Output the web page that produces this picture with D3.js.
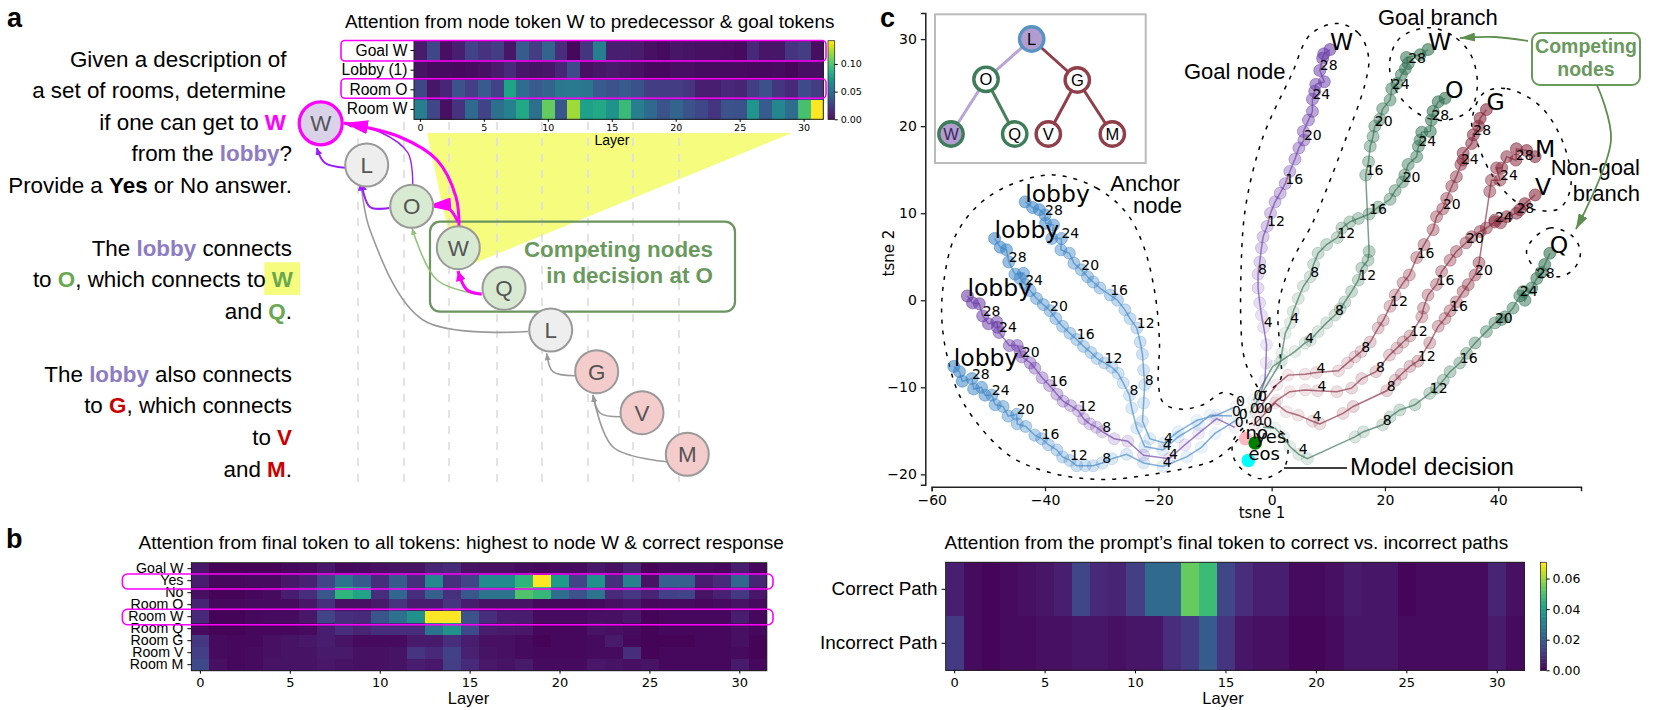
<!DOCTYPE html>
<html>
<head>
<meta charset="utf-8">
<script src="https://cdn.jsdelivr.net/npm/d3@7"></script>
<style>
  html, body { margin: 0; padding: 0; background: #fff; }
  svg { display: block; }
  text { font-family: "Liberation Sans", Arial, sans-serif; }
  .dj text, text.dj { font-family: "DejaVu Sans", sans-serif; }
</style>
</head>
<body>
<svg id="fig" width="1661" height="710"></svg>
<script>
// heatmap data (index = layer)
const layers = d3.range(32);
const layerTicks = [0, 5, 10, 15, 20, 25, 30];

const topRows = ['Goal W', 'Lobby (1)', 'Room O', 'Room W'];
const topGoalW = [.01,.03,.005,.012,.028,.02,.025,.008,.04,.025,.045,.018,.003,.022,.06,.012,.012,.01,.006,.004,.008,.007,.006,.006,.005,.004,.016,.008,.008,.022,.025,.005];
const topLobby = [.007,.004,.004,.003,.004,.006,.01,.017,.008,.007,.008,.015,.032,.006,.008,.01,.008,.006,.003,.003,.005,.005,.004,.004,.004,.004,.003,.003,.004,.002,.005,.005];
const topRoomO = [.03,.008,.015,.036,.026,.04,.028,.083,.05,.04,.045,.057,.058,.055,.04,.036,.04,.035,.025,.025,.025,.022,.012,.012,.016,.014,.025,.035,.022,.016,.032,.025];
const topRoomW = [.06,.03,.006,.02,.048,.028,.052,.062,.085,.052,.108,.038,.122,.08,.085,.072,.096,.06,.048,.036,.045,.036,.03,.022,.036,.035,.074,.04,.065,.05,.1,.142];

const finalRows = ['Goal W', 'Yes', 'No', 'Room O', 'Room W', 'Room Q', 'Room G', 'Room V', 'Room M'];
const finalGoalW = [.06,.01,.01,.01,.01,.02,.03,.06,.02,.03,.04,.05,.05,.1,.12,.05,.04,.04,.03,.02,.03,.03,.06,.04,.1,.01,.03,.03,.03,.02,.08,.02];
const finalYes = [.08,.02,.02,.03,.03,.06,.09,.2,.38,.28,.13,.28,.13,.47,.14,.2,.48,.48,.65,1,.55,.2,.5,.13,.43,.05,.3,.3,.08,.12,.33,.1];
const finalNo = [.04,.01,.01,.02,.03,.08,.13,.27,.65,.58,.13,.33,.13,.3,.14,.27,.38,.38,.72,.67,.36,.25,.38,.12,.16,.1,.19,.2,.05,.09,.17,.06];
const finalRoomO = [.1,.02,.02,.03,.03,.03,.06,.14,.04,.04,.07,.15,.08,.08,.15,.08,.05,.05,.05,.02,.02,.02,.03,.04,.06,.02,.03,.03,.02,.03,.05,.03];
const finalRoomW = [.11,.01,.01,.02,.03,.03,.06,.2,.13,.12,.26,.37,.5,1,1,.25,.13,.08,.08,.03,.03,.03,.04,.04,.06,.01,.02,.02,.02,.02,.08,.02];
const finalRoomQ = [.03,.01,.01,.02,.02,.02,.03,.08,.13,.1,.13,.13,.13,.38,.5,.22,.08,.07,.06,.02,.02,.02,.05,.04,.03,.01,.02,.02,.02,.02,.04,.02];
const finalRoomG = [.16,.03,.02,.02,.04,.05,.06,.08,.05,.03,.03,.03,.07,.07,.13,.08,.04,.04,.03,.01,.02,.02,.03,.07,.02,.01,.01,.01,.02,.02,.04,.01];
const finalRoomV = [.18,.03,.02,.03,.04,.05,.05,.07,.07,.04,.04,.05,.15,.11,.19,.09,.05,.04,.03,.02,.02,.02,.03,.03,.13,.01,.02,.02,.02,.02,.03,.01];
const finalRoomM = [.22,.04,.02,.03,.05,.05,.05,.06,.05,.04,.04,.05,.08,.06,.18,.12,.06,.05,.07,.03,.03,.03,.06,.05,.04,.05,.02,.02,.02,.02,.07,.02];

const pathRows = ['Correct Path', 'Incorrect Path'];
const pathCorrect = [.006,.002,.001,.002,.003,.004,.006,.015,.008,.007,.013,.024,.024,.054,.048,.015,.009,.006,.006,.002,.002,.003,.005,.004,.004,.001,.002,.002,.002,.002,.007,.003];
const pathIncorrect = [.012,.002,.001,.002,.002,.003,.003,.004,.004,.003,.004,.004,.009,.012,.02,.011,.004,.003,.003,.001,.001,.002,.004,.004,.004,.002,.002,.002,.002,.002,.005,.002];

// t-SNE trajectories, one [x, y] per layer 0..31
const lobbyA = [[-6.3,-12.2],[-9.7,-13.2],[-13.2,-13.8],[-16.5,-15.1],[-19,-16.4],[-21.5,-15.9],[-22.8,-13.9],[-22.6,-11.8],[-22.4,-9.7],[-22.6,-8],[-22.8,-6.2],[-23.2,-4.8],[-23.8,-3.2],[-25,-2.1],[-25.9,-1.1],[-27.2,0],[-28.5,.6],[-30.3,1.4],[-31.5,2.1],[-32.5,2.7],[-33.6,3.5],[-34.9,4.25],[-35.7,5.4],[-37.2,5.8],[-37.1,7.1],[-38.8,7.1],[-38.5,8.65],[-39.9,8.85],[-40,9.8],[-41,10.4],[-42.2,10.65],[-43.5,11.3]];
const lobbyB = [[-7,-13.3],[-10.9,-13.2],[-12.9,-14.3],[-16.5,-15.7],[-19.2,-17.2],[-22.4,-16.8],[-23.8,-14.7],[-24.7,-12.4],[-25.1,-10.9],[-26.2,-9.5],[-27.1,-8.4],[-28.2,-7.7],[-29.5,-7.2],[-30.8,-6.7],[-31.9,-6],[-33.2,-5.3],[-34.4,-4.5],[-35.6,-3.8],[-36.9,-3],[-38.1,-2.1],[-39.1,-1.2],[-40.3,-.5],[-41.5,.2],[-42.6,1.1],[-43.5,1.8],[-44.4,2.5],[-43.8,3.1],[-45.3,3],[-46.4,4.4],[-46.8,5.8],[-47.9,6.1],[-48.9,7.1]];
const lobbyC = [[-6.5,-14.6],[-9.7,-13.6],[-12.9,-15.3],[-15.3,-16.6],[-18.1,-18.2],[-22.6,-17.8],[-25.4,-16.2],[-27.8,-15.9],[-29.9,-15.1],[-30.9,-14.6],[-32.1,-14.2],[-33.2,-13.6],[-34.1,-12.7],[-35.5,-12.1],[-36.8,-11.6],[-37.9,-10.8],[-39.2,-9.8],[-40.5,-8.9],[-41.8,-7.8],[-42.6,-7.2],[-44.1,-6.5],[-44.4,-5.9],[-44.9,-5.2],[-46.3,-5.2],[-48.1,-3.7],[-48.4,-3.1],[-48.5,-2.5],[-50,-2.7],[-51,-1.8],[-51.6,-.4],[-52.8,-.3],[-53.7,.5]];
const lobbyD = [[-5.8,-13.6],[-10,-15.3],[-12.4,-16.9],[-15,-18],[-19.2,-19.1],[-22.6,-18.7],[-25.6,-17.7],[-28.2,-18.2],[-29.9,-18.7],[-31.5,-19],[-32.9,-19],[-34.4,-19],[-35.6,-18.4],[-36.9,-18],[-37.9,-17.2],[-39.4,-16.6],[-40.6,-15.9],[-41.8,-15.5],[-43.4,-14.5],[-44.9,-14.2],[-45,-13.1],[-46.5,-13.3],[-47.4,-12.2],[-48.8,-12],[-49.4,-10.9],[-50.6,-10.9],[-51.2,-10],[-52.6,-10.2],[-52.9,-9],[-54.6,-9.3],[-55.1,-8.2],[-56.1,-7.6]];
const goalNodeW = [[-2.4,-11.6],[-1.2,-9.2],[-1,-7.2],[-.9,-5.1],[-1.4,-3.1],[-1.8,-1.7],[-2.1,-.3],[-2.4,1.4],[-2.4,3],[-2.1,4.4],[-1.8,6],[-1.5,7.3],[-.8,8.5],[-.2,10],[.6,11.3],[1.5,12.3],[2.4,13.4],[3.2,14.8],[4.1,16.2],[4.8,17.5],[5.7,18.4],[5.6,19.4],[6.5,20.7],[7.2,21.7],[7.2,23.1],[7.6,24],[7.8,24.8],[9.3,25.1],[8.5,26.4],[9,27.8],[9.2,28.3],[10.3,28.8]];
const branchW = [[-3.2,-11.5],[.2,-7.6],[1.8,-6.9],[4.1,-5.9],[5.9,-4.9],[6.8,-4.6],[8.2,-3.6],[9.7,-2.6],[11.2,-1.7],[12.1,-1],[12.9,-.2],[14.1,1],[15.3,2.3],[15.9,3.7],[17,4.6],[17.2,5.6],[16.6,14.4],[17.1,15.9],[17.4,17.7],[17.9,18.8],[18.2,20],[19.1,20.8],[19.6,22],[20.9,23],[21.2,24.3],[22.1,24.9],[22.9,25.9],[23.6,26.6],[24.1,27.2],[23.8,27.9],[26.2,28.2],[27.6,28.8]];
const branchO = [[-3.8,-12.9],[1.5,-7.2],[1.8,-6.1],[2.4,-3.8],[3.3,-2.6],[3.8,-1.3],[4.7,.2],[5.6,1.6],[6.8,2.7],[7.4,4.1],[8.2,5.4],[9.7,6.4],[11.6,7.2],[12.4,8.3],[13.8,9],[15.3,9.4],[17.2,9.9],[18.8,10.7],[20.9,11.6],[21.8,12.6],[23.1,13.6],[23.5,14.4],[24.1,15.6],[25.6,16.5],[25.9,17.7],[26.2,18.4],[26.5,19.3],[28,19.4],[28.2,20.7],[28.5,21.7],[29.4,22.8],[30.6,23.2]];
const branchQ = [[-1.5,-14.6],[.6,-14.7],[2.1,-15.7],[3.2,-16.8],[4.8,-17.7],[6.3,-18.2],[14.7,-15.7],[16.2,-15.1],[19.6,-14.3],[20.9,-13.4],[22.6,-12.6],[25.3,-12],[27.9,-10.7],[29.1,-10.1],[30.3,-9.2],[31.5,-8.2],[33.2,-7.2],[34.4,-6.1],[35.9,-4.9],[37.9,-3.6],[39.4,-2.6],[40.6,-2.2],[41.2,-1.9],[42.6,-.9],[43.8,.5],[44.4,1],[44.7,0],[45.9,1.4],[46.8,2.5],[47.6,3.2],[48.2,4.1],[49.1,5.4]];
const branchG = [[-2.8,-12.9],[.9,-9.7],[2.9,-8.6],[5.9,-8.5],[7.9,-8.3],[11.8,-8.1],[13.4,-7.2],[14.7,-6.5],[15.8,-5.9],[17.4,-4.8],[18.8,-3.2],[19.7,-2.3],[20.9,-.7],[21.8,.6],[23.2,2],[24.3,2.9],[25.6,4.9],[26.9,6.4],[28.5,8.1],[29.1,9.6],[30.2,10.5],[30.9,11.7],[31.8,13.1],[32.6,14.2],[33.4,15.6],[33.8,16.1],[33.8,16.9],[35.3,18],[35.6,19],[36.5,20],[36.8,20.9],[37.9,21.9]];
const branchV = [[-1.4,-12.9],[.9,-11.5],[3.2,-10.5],[5.9,-10.3],[8.1,-10.4],[11.5,-10.5],[14.1,-10.1],[15.9,-9],[18.4,-8.2],[20.8,-6.3],[22.1,-5.5],[23.2,-4.8],[24.4,-4.1],[26.5,-1.9],[26.8,-.9],[27.6,.6],[29.1,1.8],[30,3.3],[31.5,4.6],[32.6,5.6],[34.3,6.6],[35.3,7.3],[36.8,7.9],[37.9,8.3],[39.4,9],[39.4,9.2],[40.4,8.9],[41.5,9.6],[43.2,10],[43.8,10.4],[44.7,11.1],[46.5,12.1]];
const branchM = [[-3.2,-14.4],[.6,-11.8],[2.6,-12.8],[4.7,-13.2],[7.2,-13.9],[8.5,-14.2],[12.6,-13],[14.4,-12.2],[20.3,-10.4],[21.8,-9.2],[22.9,-8.5],[24.4,-7.6],[25.8,-7],[27.9,-4.9],[29.4,-3],[30.6,-2.1],[31.5,-1.2],[32.6,-.2],[33.8,1],[34.7,1.8],[35.9,2.9],[36.6,4.3],[38.5,12.5],[38.8,13.8],[40.3,13.8],[39.7,15.2],[40.6,15.2],[41.5,16.5],[43.1,16.1],[43.2,17.4],[45,17.2],[46.5,16.5]];

const trajectoryNames = ['lobby', 'lobby', 'lobby', 'lobby', 'W', 'W', 'O', 'Q', 'G', 'V', 'M'];
const decisionNames = ['no', 'yes', 'eos'];
const decisionPoints = [[-4.6,-15.9],[-2.9,-16.4],[-4.1,-18.4]];

// dashed hulls around trajectory groups, in t-SNE units
const hullAnchor = [[-38.5,14.4],[-30.9,12.9],[-25.6,10],[-22.6,6.2],[-20.6,.8],[-19.8,-4.9],[-20,-9.5],[-19.1,-11.8],[-16.2,-12.5],[-12.1,-12],[-8.5,-10.6],[-5.6,-11.5],[-4.4,-14.1],[-6.8,-16.6],[-10.3,-18.4],[-13.8,-19.1],[-22.1,-20.1],[-30.3,-20.6],[-39.7,-19.7],[-46.8,-17.6],[-54.4,-11.8],[-57.1,-6.9],[-58.2,-2.3],[-57.9,2],[-55.9,7.3],[-51.5,11.1],[-45.6,13.4]];
const hullGoalNode = [[11.5,31.8],[15.3,30.7],[17.1,28],[16.5,24.9],[12.6,17.7],[8.5,10.8],[7.1,8.7],[3.5,4.3],[1.2,-.7],[1.5,-6.1],[1.5,-9.2],[-1.5,-10.5],[-3.5,-8.8],[-5,-6.1],[-5.3,5.4],[-4.4,11.5],[-1.5,18.8],[3.5,25.9],[6.8,30.5]];
const hullGoalBranch = [[27.9,31.3],[32.6,30.1],[35.3,28],[36.3,24.6],[35,21.9],[30.9,20.7],[26.8,21.1],[22.4,23.6],[20.8,27.1],[22.6,30.1]];
const hullNonGoal = [[37.4,23.8],[41.5,24.3],[47.4,22.3],[51.5,18],[52.8,13.1],[50.9,10.6],[47.4,10.3],[43.2,11.3],[39.1,14.2],[36.5,17.7],[35.3,20.3]];
const hullQ = [[45.6,6.6],[49.1,8.3],[53.2,7.3],[54.5,5.4],[53.2,3.5],[50.6,2.7],[46.8,3.5],[45,5.4]];
const hullDecision = [[-3.8,-14.2],[-.3,-14.5],[2.4,-15.5],[2.9,-17.2],[2.1,-19.3],[-1.5,-20.5],[-3.8,-20.1],[-6.5,-18.4],[-6.8,-16.2]];

const svg = d3.select('#fig');
const defs = svg.append('defs');

const magenta = '#ff00ff';
const blue = '#3d85c6', purple = '#6a3da8', green = '#2f6f50', maroon = '#85263a';
const boxGreen = '#6a995e';

function title(txt, x, y, size) {
  return svg.append('text').attr('x', x).attr('y', y).attr('font-size', size).text(txt);
}

// one heatmap with its axes; the colour scale is viridis over [0, vmax]
function heatmap(opts) {
  const g = svg.append('g');
  const x = d3.scaleBand().domain(layers).range([opts.left, opts.right]);
  const y = d3.scaleBand().domain(opts.rows).range([opts.top, opts.bottom]);
  const color = d3.scaleSequential(d3.interpolateViridis).domain([0, opts.vmax]);

  opts.rows.forEach((row, i) => {
    g.selectAll(null).data(opts.values[i]).join('rect')
      .attr('x', (d, k) => x(k))
      .attr('y', y(row))
      .attr('width', x.bandwidth() + .5)
      .attr('height', y.bandwidth() + .5)
      .attr('shape-rendering', 'crispEdges')
      .attr('fill', d => color(d));
  });
  g.append('rect')
    .attr('x', opts.left).attr('y', opts.top)
    .attr('width', opts.right - opts.left).attr('height', opts.bottom - opts.top)
    .attr('fill', 'none').attr('stroke', '#222').attr('stroke-width', 1);

  const xAxis = g.append('g').attr('class', 'dj')
    .attr('transform', `translate(0,${opts.bottom})`)
    .call(d3.axisBottom(x).tickValues(layerTicks).tickSize(opts.tick).tickPadding(opts.pad));
  xAxis.select('.domain').remove();
  xAxis.selectAll('text').attr('font-size', opts.tickFont).attr('fill', '#000');

  const yAxis = g.append('g')
    .attr('transform', `translate(${opts.left},0)`)
    .call(d3.axisLeft(y).tickSize(opts.tick + 1).tickPadding(opts.rowPad));
  yAxis.select('.domain').remove();
  yAxis.selectAll('text').attr('font-size', opts.rowFont).attr('fill', '#000');

  g.append('text').attr('x', opts.layerX).attr('y', opts.layerY)
    .attr('text-anchor', 'middle').attr('font-size', opts.layerFont).text('Layer');

  if (opts.bar) {
    const b = opts.bar;
    const v = d3.scaleLinear().domain([0, opts.vmax]).range([opts.bottom, opts.top]);
    const steps = d3.range(0, 1, 1 / 80);
    g.selectAll(null).data(steps).join('rect')
      .attr('x', b.left).attr('width', b.width)
      .attr('y', d => v((d + 1 / 80) * opts.vmax))
      .attr('height', (opts.bottom - opts.top) / 80 + .5)
      .attr('fill', d => color((d + .5 / 80) * opts.vmax));
    g.append('rect').attr('x', b.left).attr('y', opts.top)
      .attr('width', b.width).attr('height', opts.bottom - opts.top)
      .attr('fill', 'none').attr('stroke', '#333').attr('stroke-width', .8);
    const bAxis = g.append('g').attr('class', 'dj')
      .attr('transform', `translate(${b.left + b.width},0)`)
      .call(d3.axisRight(v).tickValues(b.ticks).tickFormat(d3.format('.2f')).tickSize(3).tickPadding(3));
    bAxis.select('.domain').remove();
    bAxis.selectAll('text').attr('font-size', b.font).attr('fill', '#000');
  }
}

// ---------- panel a ----------
svg.append('polygon')
  .attr('points', '427,133 792,133 470,265 450,240')
  .attr('fill', '#f6fd7e');

[358, 404, 449, 497, 542, 588, 633, 679].forEach(gx => {
  svg.append('line').attr('x1', gx).attr('x2', gx).attr('y1', 122).attr('y2', 486)
    .attr('stroke', '#e0e0e0').attr('stroke-width', 1.8).attr('stroke-dasharray', '8 8');
});

title('Attention from node token W to predecessor & goal tokens', 345, 28, 18.9);

heatmap({
  left: 414, right: 823.3, top: 40.7, bottom: 119.3,
  rows: topRows, values: [topGoalW, topLobby, topRoomO, topRoomW], vmax: .142,
  tick: 2.5, pad: 2, tickFont: 9.5, rowFont: 15.6, rowPad: 3,
  layerX: 612, layerY: 145, layerFont: 14,
  bar: { left: 828, width: 6.7, ticks: [0, .05, .1], font: 9.5 }
});

const roundBox = (x, y, w, h, rx, stroke, sw) => svg.append('rect')
  .attr('x', x).attr('y', y).attr('width', w).attr('height', h).attr('rx', rx)
  .attr('fill', 'none').attr('stroke', stroke).attr('stroke-width', sw);

roundBox(341, 40.5, 485, 20.5, 4, magenta, 1.6);
roundBox(341, 78.8, 485, 19.5, 4, magenta, 1.6);

// prompt text, one row per line: [text, colour or null, bold?]
const promptLines = [
  [286.5, 67, [['Given a description of']]],
  [286, 98, [['a set of rooms, determine']]],
  [286, 130, [['if one can get to '], ['W', magenta, 1]]],
  [292, 161, [['from the '], ['lobby', '#8e7cc3', 1], ['?']]],
  [292, 193, [['Provide a '], ['Yes', '#000', 1], [' or No answer.']]],
  [292, 256, [['The '], ['lobby', '#8e7cc3', 1], [' connects']]],
  [293, 287, [['to '], ['O', '#6aa84f', 1], [', which connects to '], ['W', '#6aa84f', 1]]],
  [292, 319, [['and '], ['Q', '#6aa84f', 1], ['.']]],
  [292, 381.5, [['The '], ['lobby', '#8e7cc3', 1], [' also connects']]],
  [292, 413, [['to '], ['G', '#cc0000', 1], [', which connects']]],
  [292, 445, [['to '], ['V', '#cc0000', 1]]],
  [292, 476.5, [['and '], ['M', '#cc0000', 1], ['.']]]
];
svg.append('rect').attr('x', 264.3).attr('y', 262.3).attr('width', 35.7).attr('height', 32.7).attr('fill', '#f6fd7e');
promptLines.forEach(([x, y, parts]) => {
  const t = svg.append('text').attr('x', x).attr('y', y).attr('text-anchor', 'end')
    .attr('font-size', 22.4).attr('xml:space', 'preserve');
  parts.forEach(p => {
    t.append('tspan').text(p[0])
      .attr('fill', p[1] || '#000')
      .attr('font-weight', p[2] ? 'bold' : 'normal');
  });
});

// green box behind the graph nodes
roundBox(430, 221.7, 305, 90, 10, '#6b9460', 2.2);
svg.append('text').attr('x', 713).attr('y', 256.7).attr('text-anchor', 'end')
  .attr('font-size', 22.4).attr('font-weight', 'bold').attr('fill', boxGreen).text('Competing nodes');
svg.append('text').attr('x', 713).attr('y', 283).attr('text-anchor', 'end')
  .attr('font-size', 22.4).attr('font-weight', 'bold').attr('fill', boxGreen).text('in decision at O');

// curved arrows
let arrowId = 0;
const arrowLine = d3.line().curve(d3.curveCatmullRom.alpha(.5));
function arrow(parent, pts, color, width, headLen, headWid) {
  const id = 'arrow' + (arrowId++);
  defs.append('marker').attr('id', id)
    .attr('markerUnits', 'userSpaceOnUse')
    .attr('markerWidth', headLen).attr('markerHeight', headWid)
    .attr('refX', headLen).attr('refY', headWid / 2)
    .attr('orient', 'auto')
    .append('path').attr('d', `M0,0L${headLen},${headWid / 2}L0,${headWid}Z`).attr('fill', color);
  parent.append('path').attr('d', arrowLine(pts))
    .attr('fill', 'none').attr('stroke', color).attr('stroke-width', width)
    .attr('marker-end', `url(#${id})`);
}

const graph = svg.append('g');
const grey = '#999999', violet = '#9a1cff';
arrow(graph, [[528,331.5],[423,320],[370,230],[361,181.5]], grey, 1.6, 8, 7);
arrow(graph, [[575,375.7],[553,371.7],[546.7,353.3]], grey, 1.6, 7, 6);
arrow(graph, [[620,416.7],[600,413],[593,395]], grey, 1.6, 7, 6);
arrow(graph, [[666.7,461.7],[613,447],[593,395]], grey, 1.6, 7, 6);
arrow(graph, [[481.7,295],[437,280],[412,228]], '#93c47d', 1.6, 7, 6);
arrow(graph, [[412.7,184],[408,153],[380,132],[345,124]], violet, 1.4, 7, 6);
arrow(graph, [[345,167.7],[325,163],[316.7,148]], violet, 2, 7, 7);
arrow(graph, [[389.3,208],[370,207],[361,181.5]], violet, 2, 9, 9);
arrow(graph, [[481.7,294],[467,290],[458,271]], magenta, 3, 10, 10);
arrow(graph, [[458,222],[448,208],[427,206]], magenta, 3, 24, 14);
arrow(graph, [[459,226],[456,197],[437,160],[400,137],[344,123]], magenta, 3, 24, 14);

const graphNodes = [
  ['W', 320.7, 123.3, '#d9d2e9', magenta, 3.2],
  ['L', 366.7, 165, '#eeeeee', '#999', 2],
  ['O', 411.7, 206.3, '#d9ead3', '#999', 2],
  ['W', 458.3, 247.7, '#d9ead3', '#999', 2],
  ['Q', 504, 288.3, '#d9ead3', '#999', 2],
  ['L', 550.7, 330, '#eeeeee', '#999', 2],
  ['G', 596.7, 371.7, '#f4cccc', '#999', 2],
  ['V', 642, 412.7, '#f4cccc', '#999', 2],
  ['M', 687.3, 454.3, '#f4cccc', '#999', 2]
];
graphNodes.forEach(n => {
  svg.append('circle').attr('cx', n[1]).attr('cy', n[2]).attr('r', 21.5)
    .attr('fill', n[3]).attr('stroke', n[4]).attr('stroke-width', n[5]);
  svg.append('text').attr('x', n[1]).attr('y', n[2] + 8).attr('text-anchor', 'middle')
    .attr('font-size', 22.4).attr('fill', '#555').text(n[0]);
});

// ---------- panel b ----------
title('Attention from final token to all tokens: highest to node W & correct response', 138.5, 549.3, 19);
heatmap({
  left: 191.4, right: 766.8, top: 562.7, bottom: 670.7,
  rows: finalRows,
  values: [finalGoalW, finalYes, finalNo, finalRoomO, finalRoomW, finalRoomQ, finalRoomG, finalRoomV, finalRoomM],
  vmax: 1,
  tick: 3, pad: 4, tickFont: 13, rowFont: 14.2, rowPad: 4,
  layerX: 468.5, layerY: 704, layerFont: 16.5
});
roundBox(122.4, 574, 650.6, 15, 5, magenta, 1.6);
roundBox(122.4, 609.3, 650.6, 15.4, 5, magenta, 1.6);

// ---------- panel d (bottom right) ----------
title('Attention from the prompt\u2019s final token to correct vs. incorrect paths', 944.6, 549.3, 19);
heatmap({
  left: 945.6, right: 1524.4, top: 562.3, bottom: 670.3,
  rows: pathRows, values: [pathCorrect, pathIncorrect], vmax: .0706,
  tick: 3, pad: 4, tickFont: 13, rowFont: 18.9, rowPad: 4,
  layerX: 1223, layerY: 704, layerFont: 16.5,
  bar: { left: 1540.5, width: 6.1, ticks: [0, .02, .04, .06], font: 12.5 }
});

// ---------- panel c ----------
const xT = d3.scaleLinear().domain([-60, 54.6]).range([931.7, 1581]);
const yT = d3.scaleLinear().domain([-21.2, 33]).range([484.8, 13]);

const hullLine = d3.line().x(d => xT(d[0])).y(d => yT(d[1])).curve(d3.curveCatmullRomClosed.alpha(.5));
[hullAnchor, hullGoalNode, hullGoalBranch, hullNonGoal, hullQ, hullDecision].forEach(h => {
  svg.append('path').attr('d', hullLine(h)).attr('fill', 'none')
    .attr('stroke', '#000').attr('stroke-width', 1.5).attr('stroke-dasharray', '4 7');
});

const trajectories = [lobbyA, lobbyB, lobbyC, lobbyD, goalNodeW, branchW, branchO, branchQ, branchG, branchV, branchM];
const trajColors = [blue, blue, purple, blue, purple, green, green, green, maroon, maroon, maroon];
const trajLine = d3.line().x(d => xT(d[0])).y(d => yT(d[1]));
const opacity = d3.scaleLinear().domain([0, 31]).range([.07, .58]);

trajectories.forEach((traj, k) => {
  const c = trajColors[k];
  const g = svg.append('g');
  g.selectAll('circle').data(traj).join('circle')
    .attr('cx', d => xT(d[0])).attr('cy', d => yT(d[1])).attr('r', 6)
    .attr('fill', c).attr('fill-opacity', (d, i) => opacity(i))
    .attr('stroke', c).attr('stroke-opacity', (d, i) => opacity(i));
  g.append('path').attr('d', trajLine(traj)).attr('fill', 'none')
    .attr('stroke', c).attr('stroke-width', 1.5).attr('stroke-opacity', .65);
});

// decision tokens
const decisionColors = ['#ffb6c1', '#008000', '#00ffff'];
decisionPoints.forEach((p, i) => {
  svg.append('circle').attr('cx', xT(p[0])).attr('cy', yT(p[1])).attr('r', 6.8).attr('fill', decisionColors[i]);
});

// layer labels sit with their baseline on the point
trajectories.forEach((traj, k) => {
  traj.forEach((p, i) => {
    if (i % 4 === 0 && i <= 28) {
      svg.append('text').attr('class', 'dj').attr('x', xT(p[0])).attr('y', yT(p[1]))
        .attr('font-size', 14).attr('fill', '#000').text(i);
    }
  });
  const end = traj[traj.length - 1];
  svg.append('text').attr('class', 'dj').attr('x', xT(end[0])).attr('y', yT(end[1]))
    .attr('font-size', 23.5).attr('fill', '#000').text(trajectoryNames[k]);
});
decisionPoints.forEach((p, i) => {
  svg.append('text').attr('class', 'dj').attr('x', xT(p[0])).attr('y', yT(p[1]))
    .attr('font-size', 18).attr('fill', '#000').text(decisionNames[i]);
});

// axes: left and bottom spines only
const xAxisC = svg.append('g').attr('class', 'dj').attr('transform', 'translate(0,486.7)')
  .call(d3.axisBottom(xT).tickValues([-60, -40, -20, 0, 20, 40]).tickSize(4.5).tickPadding(4).tickFormat(d => d3.format('d')(d).replace('-', '\u2212')));
const yAxisC = svg.append('g').attr('class', 'dj').attr('transform', 'translate(925.3,0)')
  .call(d3.axisLeft(yT).tickValues([-20, -10, 0, 10, 20, 30]).tickSize(4.5).tickPadding(4).tickFormat(d => d3.format('d')(d).replace('-', '\u2212')));
[xAxisC, yAxisC].forEach(a => {
  a.selectAll('.domain').attr('stroke', '#222').attr('stroke-width', 1.5);
  a.selectAll('.tick line').attr('stroke', '#222').attr('stroke-width', 1.3);
  a.selectAll('text').attr('font-size', 14).attr('fill', '#000');
});
svg.append('text').attr('class', 'dj').attr('x', 1262).attr('y', 518).attr('text-anchor', 'middle')
  .attr('font-size', 15).text('tsne 1');
svg.append('text').attr('class', 'dj').attr('transform', 'translate(894,253) rotate(-90)').attr('text-anchor', 'middle')
  .attr('font-size', 15).text('tsne 2');

// tree inset
svg.append('rect').attr('x', 935).attr('y', 14.3).attr('width', 210.7).attr('height', 148.7)
  .attr('fill', '#fff').attr('stroke', '#bbb').attr('stroke-width', 2);
const treeNodes = {
  L: [1031.7, 39], O: [986, 79.3], G: [1077.3, 80],
  W: [951, 134], Q: [1014.7, 134], V: [1048.3, 134], M: [1112.3, 134]
};
const treeEdges = [['L','O','#b9a4d6'], ['O','W','#b9a4d6'], ['O','Q','#4a7f5e'], ['L','G','#8f3f4a'], ['G','V','#8f3f4a'], ['G','M','#8f3f4a']];
treeEdges.forEach(e => {
  svg.append('line')
    .attr('x1', treeNodes[e[0]][0]).attr('y1', treeNodes[e[0]][1])
    .attr('x2', treeNodes[e[1]][0]).attr('y2', treeNodes[e[1]][1])
    .attr('stroke', e[2]).attr('stroke-width', 3);
});
const treeStyle = {
  L: ['#b39ccf', '#5b92c4'], O: ['#fff', '#3f7d5a'], G: ['#fff', '#8f3f4a'],
  W: ['#b39ccf', '#3f7d5a'], Q: ['#fff', '#3f7d5a'], V: ['#fff', '#8f3f4a'], M: ['#fff', '#8f3f4a']
};
Object.keys(treeNodes).forEach(k => {
  const p = treeNodes[k];
  svg.append('circle').attr('cx', p[0]).attr('cy', p[1]).attr('r', 12.2)
    .attr('fill', treeStyle[k][0]).attr('stroke', treeStyle[k][1]).attr('stroke-width', 3.4);
  svg.append('text').attr('x', p[0]).attr('y', p[1] + 6).attr('text-anchor', 'middle')
    .attr('font-size', 16.5).attr('fill', k === 'W' ? '#3a2a5a' : '#000').text(k);
});

// annotations
title('Goal node', 1184, 79, 22);
title('Goal branch', 1378, 25, 22);
svg.append('text').attr('x', 1180).attr('y', 191).attr('text-anchor', 'end').attr('font-size', 22).text('Anchor');
svg.append('text').attr('x', 1182).attr('y', 213).attr('text-anchor', 'end').attr('font-size', 22).text('node');
svg.append('text').attr('x', 1640).attr('y', 175).attr('text-anchor', 'end').attr('font-size', 22).text('Non-goal');
svg.append('text').attr('x', 1640).attr('y', 201).attr('text-anchor', 'end').attr('font-size', 22).text('branch');
title('Model decision', 1350, 475, 24.6);
svg.append('line').attr('x1', 1284).attr('x2', 1347).attr('y1', 468).attr('y2', 468).attr('stroke', '#000').attr('stroke-width', 1.5);

// competing nodes bubble and its arrows
roundBox(1532, 33, 108, 52, 8, '#6a9a5a', 2);
svg.append('text').attr('x', 1586).attr('y', 53).attr('text-anchor', 'middle')
  .attr('font-size', 19.5).attr('font-weight', 'bold').attr('fill', boxGreen).text('Competing');
svg.append('text').attr('x', 1586).attr('y', 76).attr('text-anchor', 'middle')
  .attr('font-size', 19.5).attr('font-weight', 'bold').attr('fill', boxGreen).text('nodes');
const notes = svg.append('g');
arrow(notes, [[1528,41],[1495,37],[1460,38]], '#5f8f4f', 1.8, 15, 9);
arrow(notes, [[1597,85],[1611,140],[1576,229]], '#5f8f4f', 1.8, 15, 10);

// panel letters
[['a', 7, 27], ['b', 6, 548], ['c', 880, 27]].forEach(l => {
  svg.append('text').attr('x', l[1]).attr('y', l[2]).attr('font-size', 27)
    .attr('font-weight', 'bold').text(l[0]);
});
</script>
</body>
</html>
